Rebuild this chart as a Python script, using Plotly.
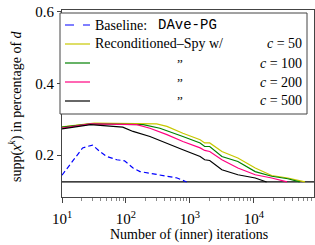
import plotly.graph_objects as go

# ---- data ----
base_x = [10, 21, 30, 39, 50, 72, 95, 129, 166, 339, 631, 890]
base_y = [0.144, 0.220, 0.228, 0.210, 0.196, 0.187, 0.184, 0.164, 0.154, 0.145, 0.136, 0.125]

c50_x = [10, 32, 302, 437, 776, 1445, 1700, 2040, 3160, 5620, 10500, 19000, 34000, 63000]
c50_y = [0.279, 0.289, 0.287, 0.280, 0.261, 0.243, 0.234, 0.234, 0.210, 0.192, 0.164, 0.143, 0.136, 0.125]

c100_x = [10, 28, 186, 339, 776, 1445, 1700, 2040, 3160, 5620, 10500, 19000, 34000, 52000]
c100_y = [0.278, 0.287, 0.285, 0.275, 0.252, 0.234, 0.224, 0.224, 0.196, 0.182, 0.154, 0.141, 0.134, 0.125]

c200_x = [10, 28, 148, 237, 437, 776, 1445, 1700, 2040, 3160, 5620, 10500, 19000, 33000]
c200_y = [0.275, 0.287, 0.285, 0.275, 0.257, 0.238, 0.220, 0.213, 0.210, 0.187, 0.164, 0.145, 0.136, 0.125]

c500_x = [10, 28, 89, 129, 237, 437, 776, 1445, 1700, 2040, 3160, 5620, 10500, 15800]
c500_y = [0.273, 0.285, 0.278, 0.266, 0.252, 0.234, 0.215, 0.196, 0.187, 0.185, 0.159, 0.145, 0.136, 0.125]

ref_x = [10, 100000]
ref_y = [0.125, 0.125]

x_tickvals = [10, 100, 1000, 10000]
x_ticktext = ["10<sup>1</sup>", "10<sup>2</sup>", "10<sup>3</sup>", "10<sup>4</sup>"]
y_tickvals = [0.2, 0.4, 0.6]
y_ticktext = ["0.2", "0.4", "0.6"]

legend_labels = ["Baseline: ", "Reconditioned\u2013Spy w/", "\u201d", "\u201d", "\u201d"]
legend_c = ["", "<i>c</i> = 50", "<i>c</i> = 100", "<i>c</i> = 200", "<i>c</i> = 500"]

# ---- styling ----
W, H = 315, 245
L, R, T, B = 62, 314, 10, 197   # plot area in pixels
SERIF = "Liberation Serif"
MONO = "Liberation Mono"
AX = "#444444"
BLUE, YEL, GRN, PNK, BLK = "#0000ff", "#c8c800", "#008000", "#ff0080", "#000000"

def px(x):
    return (x - L) / (R - L)

def py(y):
    return (B - y) / (B - T)

fig = go.Figure()
fig.add_trace(go.Scatter(x=ref_x, y=ref_y, mode="lines", line=dict(color=BLK, width=1.2)))
fig.add_trace(go.Scatter(x=base_x, y=base_y, mode="lines", line=dict(color=BLUE, width=1.2, dash="5px,3px")))
fig.add_trace(go.Scatter(x=c50_x, y=c50_y, mode="lines", line=dict(color=YEL, width=1.2)))
fig.add_trace(go.Scatter(x=c100_x, y=c100_y, mode="lines", line=dict(color=GRN, width=1.2)))
fig.add_trace(go.Scatter(x=c200_x, y=c200_y, mode="lines", line=dict(color=PNK, width=1.2)))
fig.add_trace(go.Scatter(x=c500_x, y=c500_y, mode="lines", line=dict(color=BLK, width=1.2)))

minor_vals = [m * 10 ** e for e in range(1, 5) for m in range(2, 10)]

fig.update_layout(
    width=W, height=H,
    margin=dict(l=L, r=W - R, t=T, b=H - B, pad=0),
    paper_bgcolor="white", plot_bgcolor="white",
    showlegend=False,
    font=dict(family=SERIF, size=14, color="black"),
    xaxis=dict(type="log", range=[1, 4.94], tickmode="array",
               tickvals=x_tickvals, ticktext=x_ticktext,
               ticks="outside", ticklen=5, tickcolor=AX, tickwidth=1,
               ticklabelstandoff=3,
               showline=True, linecolor=AX, linewidth=1, mirror=True,
               showgrid=False, zeroline=False,
               minor=dict(tickmode="array", tickvals=minor_vals, ticks="outside",
                          ticklen=3, tickcolor="#888888", showgrid=False),
               tickfont=dict(family=SERIF, size=15)),
    yaxis=dict(range=[0.083, 0.605], tickmode="array",
               tickvals=y_tickvals, ticktext=y_ticktext,
               ticks="outside", ticklen=4, tickcolor=AX,
               showline=True, linecolor=AX, linewidth=1, mirror=True,
               showgrid=False, zeroline=False,
               tickfont=dict(family=SERIF, size=15)),
)

shapes = []
annotations = []
# legend box
shapes.append(dict(type="rect", xref="paper", yref="paper",
                   x0=px(60), x1=px(307), y0=py(114), y1=py(13),
                   fillcolor="white", line=dict(color=AX, width=1), layer="above"))
rows = [25, 44, 63, 82, 101]
colors = [BLUE, YEL, GRN, PNK, BLK]
for i, (ry, col) in enumerate(zip(rows, colors)):
    shapes.append(dict(type="line", xref="paper", yref="paper",
                       x0=px(65), x1=px(90), y0=py(ry), y1=py(ry),
                       line=dict(color=col, width=1.2, dash="dash" if i == 0 else "solid"),
                       layer="above"))
    lab = legend_labels[i]
    if lab == "\u201d":
        annotations.append(dict(text=lab, xref="paper", yref="paper", x=px(180), y=py(ry),
                                xanchor="center", yanchor="middle", showarrow=False,
                                font=dict(family=SERIF, size=13)))
    else:
        annotations.append(dict(text=lab, xref="paper", yref="paper", x=px(93), y=py(ry),
                                xanchor="left", yanchor="middle", showarrow=False,
                                font=dict(family=SERIF, size=14)))
    if legend_c[i]:
        annotations.append(dict(text=legend_c[i], xref="paper", yref="paper", x=px(304), y=py(ry),
                                xanchor="right", yanchor="middle", showarrow=False,
                                font=dict(family=SERIF, size=14)))
annotations.append(dict(text="DAve-PG", xref="paper", yref="paper", x=px(156), y=py(25),
                        xanchor="left", yanchor="middle", showarrow=False,
                        font=dict(family=MONO, size=14)))
# axis titles
annotations.append(dict(text="Number of (inner) iterations", xref="paper", yref="paper",
                        x=px(188.5), y=py(235), xanchor="center", yanchor="middle",
                        showarrow=False, font=dict(family=SERIF, size=14)))
annotations.append(dict(text="supp(<i>x</i><sup><i>k</i></sup>) in percentage of <i>d</i>",
                        xref="paper", yref="paper", x=px(15), y=py(106),
                        xanchor="center", yanchor="middle", textangle=-90,
                        showarrow=False, font=dict(family=SERIF, size=14)))
fig.update_layout(shapes=shapes, annotations=annotations)

fig.write_html("out.html",
               config={"displayModeBar": False, "staticPlot": True},
               post_script="document.body.style.margin='0';document.body.style.overflow='hidden';")
